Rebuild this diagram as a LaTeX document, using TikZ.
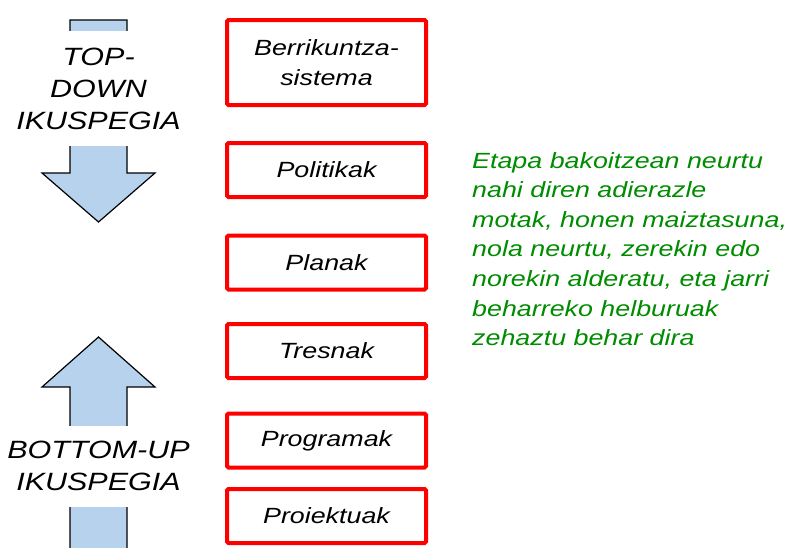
\documentclass[tikz,border=0pt]{standalone}
\usepackage{fontspec}
\newfontfamily\slidefont{Liberation Sans}[FakeStretch=1.22]
\definecolor{arrowblue}{RGB}{183,210,236}
\definecolor{notegreen}{RGB}{0,140,0}
\tikzset{
  stage/.style={draw=red, line width=4pt, rounded corners=1.5pt, minimum width=199pt, minimum height=54pt, inner sep=0pt, align=center, font=\slidefont\itshape\fontsize{22}{30}\selectfont},
  view/.style={fill=white, inner sep=0pt, align=center, font=\slidefont\itshape\fontsize{25}{32}\selectfont},
  bigarrow/.style={draw=black, line width=1.2pt}
}
\begin{document}
\begin{tikzpicture}[x=1pt,y=-1pt]
    \useasboundingbox (0,0) rectangle (791,547);
    % Top-down arrow
    \filldraw[bigarrow, fill=arrowblue] (70,20) -- (127,20) -- (127,173) -- (155,173) -- (98.5,222) -- (42,173) -- (70,173) -- cycle;
    \node[view, minimum height=115pt] (topdown) at (98.5,88.5) {TOP-\\DOWN\\IKUSPEGIA};
    % Bottom-up arrow, cut off at the bottom
    \fill[arrowblue] (70,550) -- (70,387) -- (42,387) -- (98.5,337) -- (155,387) -- (127,387) -- (127,550) -- cycle;
    \draw[bigarrow] (70,550) -- (70,387) -- (42,387) -- (98.5,337) -- (155,387) -- (127,387) -- (127,550);
    \node[view, minimum height=81pt] (bottomup) at (98.5,466) {BOTTOM-UP\\IKUSPEGIA};
    % Stages
    \node[stage, minimum height=85pt] (berrikuntza) at (326.5,62.5) {Berrikuntza-\\sistema};
    \node[stage] (politikak) at (326.5,170) {Politikak};
    \node[stage] (planak) at (326.5,262.5) {Planak};
    \node[stage] (tresnak) at (326.5,351) {Tresnak};
    \node[stage] (programak) at (326.5,440.5) {Programak};
    \node[stage] (proiektuak) at (326.5,516) {Proiektuak};
    % Note
    \node[anchor=north west, inner sep=0pt, align=left, text=notegreen, font=\slidefont\itshape\fontsize{22}{29.6}\selectfont] (oharra) at (472,152)
        {Etapa bakoitzean neurtu\\nahi diren adierazle\\motak, honen maiztasuna,\\nola neurtu, zerekin edo\\norekin alderatu, eta jarri\\beharreko helburuak\\zehaztu behar dira};
\end{tikzpicture}
\end{document}
